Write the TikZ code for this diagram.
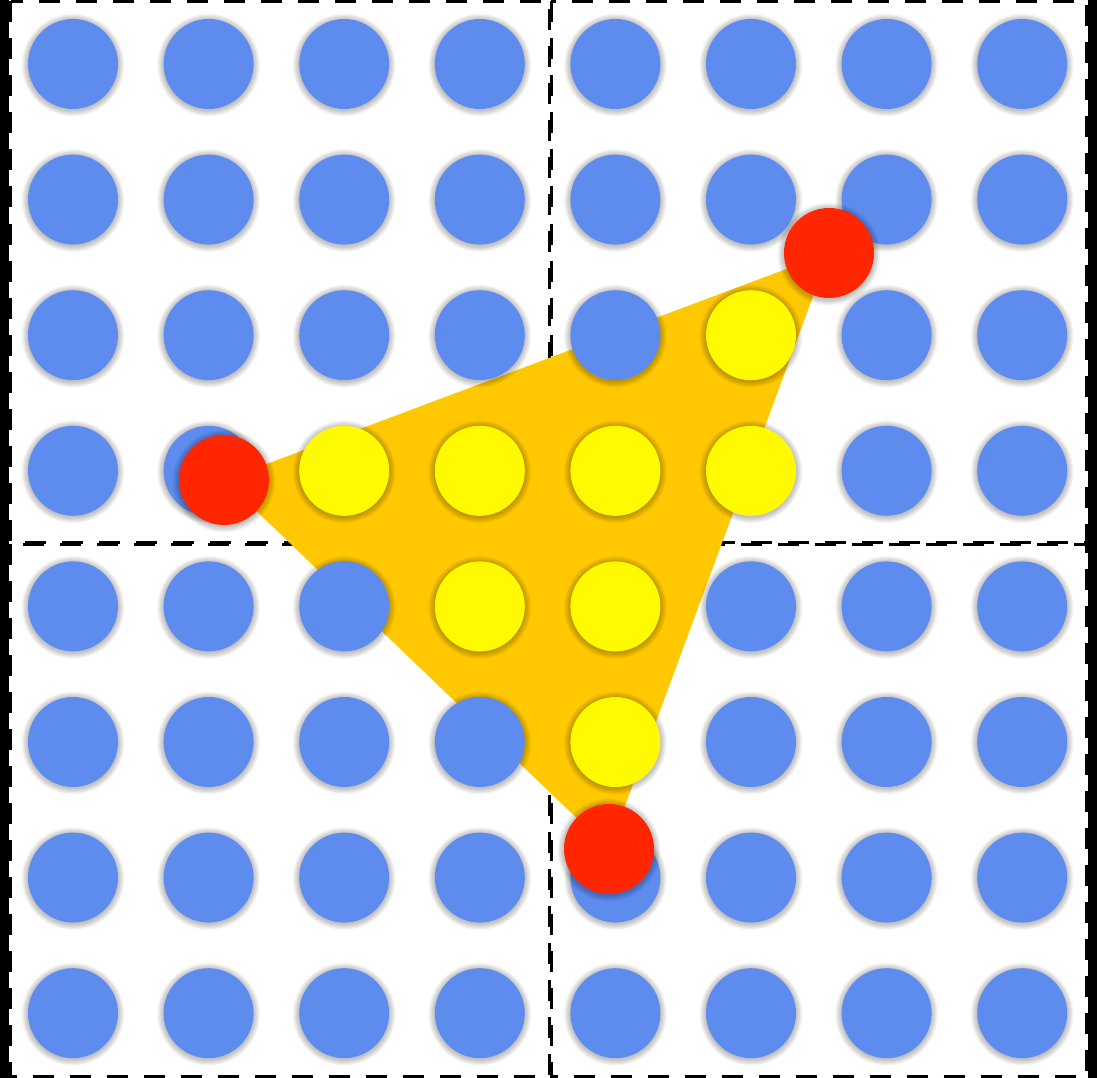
\documentclass[tikz,border=0pt]{standalone}
\definecolor{dotblue}{RGB}{94,139,238}
\definecolor{dotyellow}{RGB}{255,250,0}
\definecolor{dotred}{RGB}{255,38,0}
\definecolor{trifill}{RGB}{255,200,0}
\tikzset{
  dot/.style={circle, minimum size=90pt, inner sep=0pt, draw=none},
  bluedot/.style={dot, fill=dotblue},
  yellowdot/.style={dot, fill=dotyellow},
  reddot/.style={dot, fill=dotred},
  shadowring/.style={fill=black, opacity=0.03},
  tile/.style={draw=black, line width=3pt, dash pattern=on 21pt off 16pt},
  strip/.style={fill=black}
}
\newcommand\softshadow[1]{%
  \foreach \k in {1,...,8}{\fill[shadowring] ([yshift=-1pt]#1) circle ({45+\k*0.8});}}
\begin{document}
\begin{tikzpicture}[x=1pt,y=-1pt]
\useasboundingbox (0,0) rectangle (1097,1078);
\fill[white] (0,0) rectangle (1097,1078);
% side strips
\fill[strip] (0,0) rectangle (9,1078);
\fill[strip] (1088,0) rectangle (1097,1078);
% tiles
\draw[tile] (10.5,1.5) rectangle (549,542);
\draw[tile] (551,1.5) rectangle (1086,542);
\draw[tile] (10.5,544) rectangle (549,1076.5);
\draw[tile] (551,544) rectangle (1086,1076.5);
% triangle
\coordinate (pa) at (224,480);
\coordinate (pb) at (829,253);
\coordinate (pc) at (609,849);
\fill[trifill] (pa) -- (pb) -- (pc) -- cycle;
% grid of dots
\foreach \i in {0,...,7}{
  \foreach \j in {0,...,7}{
    \pgfmathsetmacro{\xx}{73+135.6*\i}
    \pgfmathsetmacro{\yy}{64+135.6*\j}
    \edef\isyellow{0}
    \ifnum\i\j=52 \edef\isyellow{1}\fi
    \ifnum\i\j=23 \edef\isyellow{1}\fi
    \ifnum\i\j=33 \edef\isyellow{1}\fi
    \ifnum\i\j=43 \edef\isyellow{1}\fi
    \ifnum\i\j=53 \edef\isyellow{1}\fi
    \ifnum\i\j=34 \edef\isyellow{1}\fi
    \ifnum\i\j=44 \edef\isyellow{1}\fi
    \ifnum\i\j=45 \edef\isyellow{1}\fi
    \softshadow{\xx,\yy}
    \ifnum\isyellow=1
      \node[yellowdot] (y-\i-\j) at (\xx,\yy) {};
    \else
      \node[bluedot] (b-\i-\j) at (\xx,\yy) {};
    \fi
  }
}
% red vertices
\softshadow{pa}
\softshadow{pb}
\softshadow{pc}
\node[reddot] (ra) at (pa) {};
\node[reddot] (rb) at (pb) {};
\node[reddot] (rc) at (pc) {};
\end{tikzpicture}
\end{document}
